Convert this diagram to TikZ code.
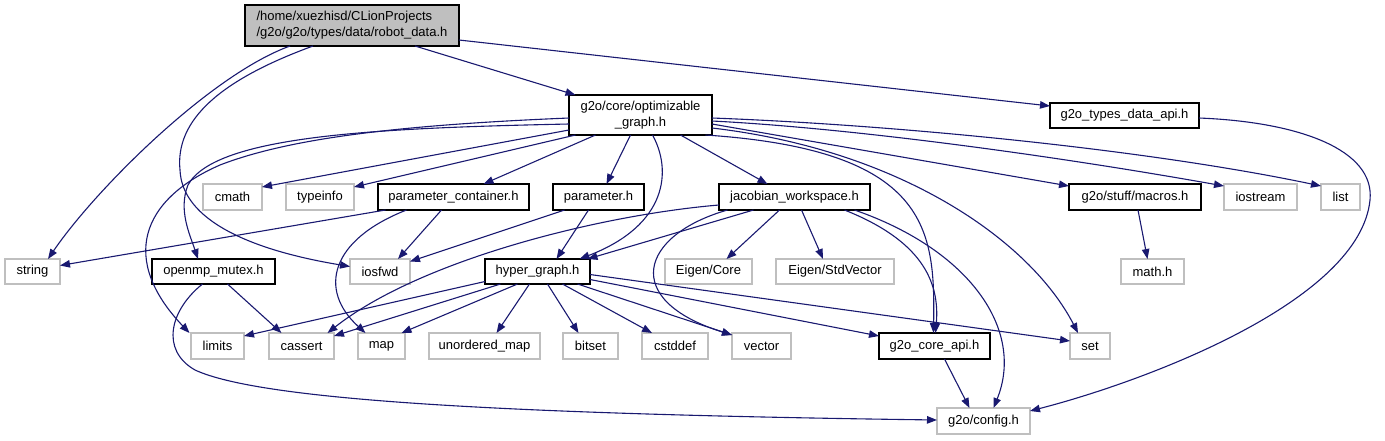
\documentclass[tikz,border=0pt]{standalone}
\usepackage{fontspec}
\setmainfont{Liberation Sans}
\usetikzlibrary{arrows.meta}
\definecolor{edgecol}{HTML}{191970}
\definecolor{lgray}{HTML}{BFBFBF}
\begin{document}
\begin{tikzpicture}[x=1pt,y=-1pt,
  every node/.style={font=\fontsize{13}{16}\selectfont, inner sep=0pt, outer sep=0pt},
  docbox/.style={draw=black, line width=1.2pt, fill=white},
  sysbox/.style={draw=lgray, line width=1.2pt, fill=white},
  dep/.style={draw=edgecol, line width=1.1pt, -{Triangle[length=10pt,width=7.5pt]}}]
\useasboundingbox (0,0) rectangle (1385,440);
% nodes
\node[docbox, fill=lgray, minimum width=214pt, minimum height=41pt, align=left] (root) at (352,25.5) {/home/xuezhisd/CLionProjects\\/g2o/g2o/types/data/robot\_data.h};
\node[docbox, minimum width=143pt, minimum height=40pt, align=center] (opt) at (640.5,115) {g2o/core/optimizable\\\_graph.h};
\node[docbox, minimum width=149pt, minimum height=25pt] (tapi) at (1124.5,115.5) {g2o\_types\_data\_api.h};
\node[sysbox, minimum width=59pt, minimum height=26pt] (cmath) at (232.5,197) {cmath};
\node[sysbox, minimum width=68pt, minimum height=26pt] (typeinfo) at (320,197) {typeinfo};
\node[docbox, minimum width=151pt, minimum height=26pt] (pc) at (453.5,197) {parameter\_container.h};
\node[docbox, minimum width=91pt, minimum height=26pt] (param) at (598.5,197) {parameter.h};
\node[docbox, minimum width=151pt, minimum height=26pt] (jac) at (794.5,197) {jacobian\_workspace.h};
\node[docbox, minimum width=132pt, minimum height=26pt] (macros) at (1135,197) {g2o/stuff/macros.h};
\node[sysbox, minimum width=73pt, minimum height=26pt] (iostream) at (1260.5,197) {iostream};
\node[sysbox, minimum width=39pt, minimum height=26pt] (list) at (1340.5,197) {list};
\node[sysbox, minimum width=55pt, minimum height=25pt] (string) at (32.5,271.5) {string};
\node[docbox, minimum width=123pt, minimum height=25pt] (openmp) at (213.5,271.5) {openmp\_mutex.h};
\node[sysbox, minimum width=60pt, minimum height=25pt] (iosfwd) at (380,271.5) {iosfwd};
\node[docbox, minimum width=105pt, minimum height=25pt] (hg) at (537.5,271.5) {hyper\_graph.h};
\node[sysbox, minimum width=87pt, minimum height=25pt] (ecore) at (708.5,271.5) {Eigen/Core};
\node[sysbox, minimum width=118pt, minimum height=25pt] (estd) at (835,271.5) {Eigen/StdVector};
\node[sysbox, minimum width=63pt, minimum height=25pt] (math) at (1152.5,271.5) {math.h};
\node[sysbox, minimum width=53pt, minimum height=26pt] (limits) at (217.5,346) {limits};
\node[sysbox, minimum width=65pt, minimum height=26pt] (cassert) at (301.5,346) {cassert};
\node[sysbox, minimum width=47pt, minimum height=26pt] (map) at (381.5,346) {map};
\node[sysbox, minimum width=111pt, minimum height=26pt] (umap) at (484.5,346) {unordered\_map};
\node[sysbox, minimum width=55pt, minimum height=26pt] (bitset) at (590.5,346) {bitset};
\node[sysbox, minimum width=66pt, minimum height=26pt] (cstddef) at (675,346) {cstddef};
\node[sysbox, minimum width=59pt, minimum height=26pt] (vector) at (761.5,346) {vector};
\node[docbox, minimum width=111pt, minimum height=26pt] (coreapi) at (934.5,346) {g2o\_core\_api.h};
\node[sysbox, minimum width=40pt, minimum height=26pt] (set) at (1090,346) {set};
\node[sysbox, minimum width=93pt, minimum height=26pt] (config) at (983.5,421) {g2o/config.h};
% edges from root
\draw[dep] ([xshift=-62pt]root.south) .. controls (210,75) and (95,190) .. ([xshift=15.5pt]string.north);
\draw[dep] ([xshift=-39pt]root.south) .. controls (220,80) and (175,120) .. (180,170) .. controls (182,220) and (250,250) .. ([yshift=5pt]iosfwd.west);
\draw[dep] ([xshift=63pt]root.south) -- ([xshift=-65pt]opt.north);
\draw[dep] ([yshift=-14.5pt]root.east) -- ([yshift=9.5pt]tapi.west);
% edges from optimizable_graph
\draw[dep] ([yshift=-15pt]opt.west) -- ([yshift=10pt]cmath.east);
\draw[dep] ([xshift=-65pt]opt.south) -- ([yshift=10pt]typeinfo.east);
\draw[dep] ([xshift=-45pt]opt.south) -- ([xshift=30pt]pc.north);
\draw[dep] ([xshift=-10pt]opt.south) -- ([xshift=8pt]param.north);
\draw[dep] ([xshift=12pt]opt.south) .. controls (672,170) and (668,225) .. ([xshift=42pt]hg.north);
\draw[dep] ([xshift=40pt]opt.south) -- ([xshift=-27pt]jac.north);
\draw[dep] ([yshift=-9pt]opt.east) -- ([yshift=11pt]macros.west);
\draw[dep] ([yshift=-6pt]opt.east) .. controls (850,128) and (1050,155) .. ([yshift=11pt]iostream.west);
\draw[dep] ([yshift=-3pt]opt.east) .. controls (900,125) and (1150,150) .. ([yshift=11pt]list.west);
\draw[dep] ([yshift=-13pt]opt.east) .. controls (900,150) and (1030,240) .. ([xshift=-12pt]set.north);
\draw[dep] ([xshift=65pt]opt.south) .. controls (930,150) and (935,230) .. ([xshift=-1pt]coreapi.north);
\draw[dep] ([yshift=-3pt]opt.west) .. controls (400,125) and (290,138) .. (220,165) .. controls (140,200) and (120,260) .. ([xshift=-28pt]limits.north);
\draw[dep] ([yshift=-9pt]opt.west) .. controls (380,128) and (215,135) .. (188,185) .. controls (178,210) and (190,235) .. ([xshift=-15.5pt]openmp.north);
% parameter_container
\draw[dep] ([xshift=-68pt]pc.south) -- ([yshift=6pt]string.east);
\draw[dep] ([xshift=-12pt]pc.south) -- ([xshift=18pt]iosfwd.north);
\draw[dep] ([xshift=-47pt]pc.south) .. controls (330,240) and (318,290) .. ([xshift=-16pt]map.north);
% parameter
\draw[dep] ([xshift=-10pt]param.south) -- ([xshift=19pt]hg.north);
\draw[dep] ([xshift=-34pt]param.south) -- ([yshift=10pt]iosfwd.east);
% jacobian_workspace
\draw[dep] ([xshift=-41pt]jac.south) -- ([xshift=50pt]hg.north);
\draw[dep] ([yshift=-8pt]jac.west) .. controls (600,215) and (420,260) .. ([xshift=26pt]cassert.north);
\draw[dep] ([xshift=-15pt]jac.south) -- ([xshift=18pt]ecore.north);
\draw[dep] ([xshift=7pt]jac.south) -- ([xshift=-12pt]estd.north);
\draw[dep] ([xshift=-67pt]jac.south) .. controls (640,235) and (620,300) .. ([yshift=11pt]vector.west);
\draw[dep] ([xshift=50pt]jac.south) .. controls (920,240) and (940,280) .. ([xshift=1pt]coreapi.north);
\draw[dep] ([xshift=60pt]jac.south) .. controls (970,250) and (1025,330) .. ([xshift=10pt]config.north);
% hyper_graph
\draw[dep] ([yshift=-10pt]hg.west) -- ([yshift=10pt]limits.east);
\draw[dep] ([xshift=-37pt]hg.south) -- ([yshift=10pt]cassert.east);
\draw[dep] ([xshift=-20pt]hg.south) -- ([xshift=20pt]map.north);
\draw[dep] ([xshift=-8pt]hg.south) -- ([xshift=12pt]umap.north);
\draw[dep] ([xshift=10pt]hg.south) -- ([xshift=-12pt]bitset.north);
\draw[dep] ([xshift=25pt]hg.south) -- ([xshift=-23pt]cstddef.north);
\draw[dep] ([xshift=40pt]hg.south) -- ([yshift=11pt]vector.west);
\draw[dep] ([yshift=-8pt]hg.east) -- ([yshift=10pt]coreapi.west);
\draw[dep] ([yshift=-3pt]hg.east) -- ([yshift=5pt]set.west);
% openmp_mutex
\draw[dep] ([xshift=14pt]openmp.south) -- ([xshift=-20pt]cassert.north);
\draw[dep] ([xshift=-11pt]openmp.south) .. controls (170,310) and (160,350) .. (195,370) .. controls (260,400) and (500,414) .. ([yshift=1pt]config.west);
% others
\draw[dep] ([xshift=10pt]coreapi.south) -- ([xshift=-14pt]config.north);
\draw[dep] ([xshift=3pt]macros.south) -- ([xshift=-5pt]math.north);
\draw[dep] ([yshift=-2.5pt]tapi.east) .. controls (1300,122) and (1375,150) .. (1370,200) .. controls (1360,300) and (1150,380) .. ([yshift=10pt]config.east);
\end{tikzpicture}
\end{document}
